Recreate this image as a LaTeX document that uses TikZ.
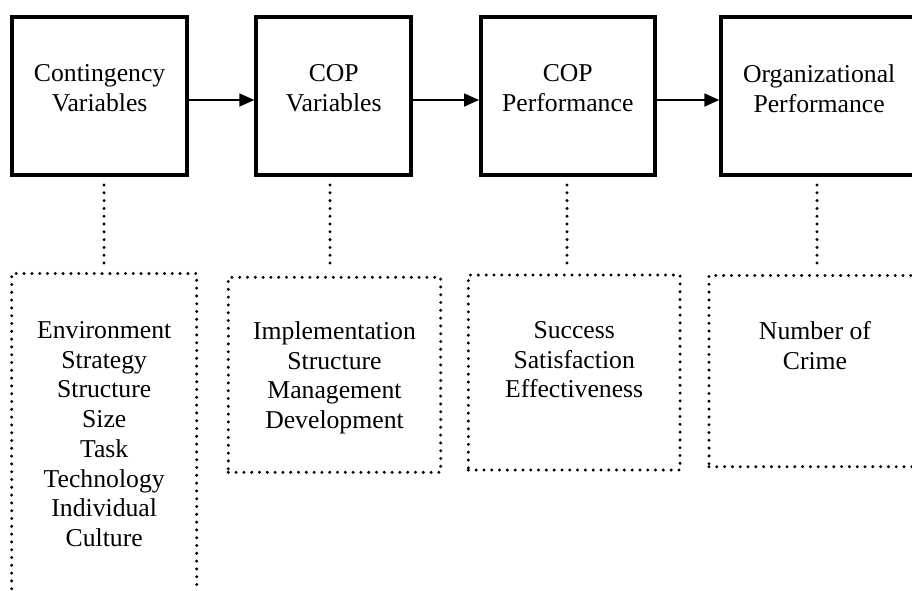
\documentclass[tikz,border=0pt]{standalone}
\usepackage{fontspec}
\setmainfont{Liberation Serif}
\usetikzlibrary{arrows.meta}
\begin{document}
\begin{tikzpicture}[x=1pt,y=-1pt,
  mainbox/.style={draw, line width=4pt, inner sep=0pt, outer sep=0pt, minimum height=157.7pt},
  dotbox/.style={draw, line width=3.3pt, line cap=round, dash pattern=on 0pt off 7.8pt, inner sep=0pt, outer sep=0pt},
  dotlink/.style={line width=3.3pt, line cap=round, dash pattern=on 0pt off 7.8pt, shorten <=10.3pt, shorten >=10.5pt},
  flow/.style={line width=1.8pt, shorten <=2pt, shorten >=2pt, -{Triangle[length=15pt,width=13pt]}},
  lbl/.style={anchor=north, inner sep=0pt, align=center, font=\fontsize{25.7pt}{29.7pt}\selectfont}]
\useasboundingbox (0,0) rectangle (912,590);
\clip (0,0) rectangle (912,590);
% main boxes
\node[mainbox, minimum width=175.3pt] (box1) at (99.65,95.85) {};
\node[mainbox, minimum width=154.9pt] (box2) at (333.75,95.85) {};
\node[mainbox, minimum width=173.5pt] (box3) at (567.75,95.85) {};
\node[mainbox, minimum width=195.7pt] (box4) at (819.15,95.85) {};
\node[lbl] (t1) at (99.65,64.3) {Contingency\\Variables};
\node[lbl] (t2) at (333.75,64.3) {COP\\Variables};
\node[lbl] (t3) at (567.75,64.3) {COP\\Performance};
\node[lbl] (t4) at (819.15,64.3) {Organizational\\Performance};
% dotted boxes
\node[dotbox, minimum width=185pt, minimum height=360pt] (d1) at (104.2,453.5) {};
\node[dotbox, minimum width=212.4pt, minimum height=195pt] (d2) at (334.5,374.8) {};
\node[dotbox, minimum width=211.7pt, minimum height=195pt] (d3) at (574.2,372.5) {};
\node[dotbox, minimum width=212pt, minimum height=191.2pt] (d4) at (815,371.1) {};
\node[lbl] (b1) at (104.2,321.3) {Environment\\Strategy\\Structure\\Size\\Task\\Technology\\Individual\\Culture};
\node[lbl] (b2) at (334.5,321.3) {Implementation\\Structure\\Management\\Development};
\node[lbl] (b3) at (574.2,321.3) {Success\\Satisfaction\\Effectiveness};
\node[lbl] (b4) at (815,321.3) {Number of\\Crime};
% arrows
\draw[flow] ([yshift=-4.15pt]box1.east) -- ([yshift=-4.15pt]box2.west);
\draw[flow] ([yshift=-4.15pt]box2.east) -- ([yshift=-4.15pt]box3.west);
\draw[flow] ([yshift=-4.15pt]box3.east) -- ([yshift=-4.15pt]box4.west);
% dotted links
\draw[dotlink] ([xshift=4.4pt]box1.south) -- ([xshift=4.4pt]box1.south |- d1.north);
\draw[dotlink] ([xshift=-3.75pt]box2.south) -- ([xshift=-3.75pt]box2.south |- d2.north);
\draw[dotlink] ([xshift=-0.75pt]box3.south) -- ([xshift=-0.75pt]box3.south |- d3.north);
\draw[dotlink] ([xshift=-2.15pt]box4.south) -- ([xshift=-2.15pt]box4.south |- d4.north);
\end{tikzpicture}
\end{document}
